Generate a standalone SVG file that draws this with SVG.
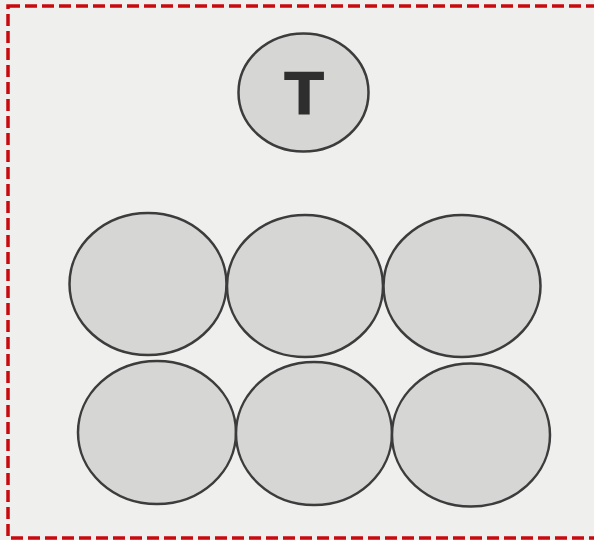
<svg xmlns="http://www.w3.org/2000/svg" width="594" height="540" viewBox="0 0 594 540">
<style>
.ball{fill:#d6d6d5;stroke:#3c3c3c;stroke-width:2.5}
.lbl{font-family:"DejaVu Sans",sans-serif;font-weight:bold;font-size:59px;fill:#2e2e2e;text-anchor:middle}
</style>
<rect x="0" y="0" width="594" height="540" fill="#efefed"/>
<rect x="8" y="6" width="600" height="532" fill="none" stroke="#c8090e" stroke-width="3.5" stroke-dasharray="12,5"/>
<g id="node-T"><ellipse class="ball" cx="303.5" cy="92.5" rx="65" ry="59"/><text class="lbl" x="304" y="115">T</text></g>
<g id="node-r1c1"><ellipse class="ball" cx="148" cy="284" rx="78.5" ry="71"/></g>
<g id="node-r1c2"><ellipse class="ball" cx="305" cy="286" rx="78" ry="71"/></g>
<g id="node-r1c3"><ellipse class="ball" cx="462" cy="286" rx="78.5" ry="71"/></g>
<g id="node-r2c1"><ellipse class="ball" cx="157" cy="432.5" rx="79" ry="71.5"/></g>
<g id="node-r2c2"><ellipse class="ball" cx="314" cy="433.5" rx="78" ry="71.5"/></g>
<g id="node-r2c3"><ellipse class="ball" cx="471" cy="435" rx="79" ry="71.5"/></g>
<g id="connectors"/>
</svg>
